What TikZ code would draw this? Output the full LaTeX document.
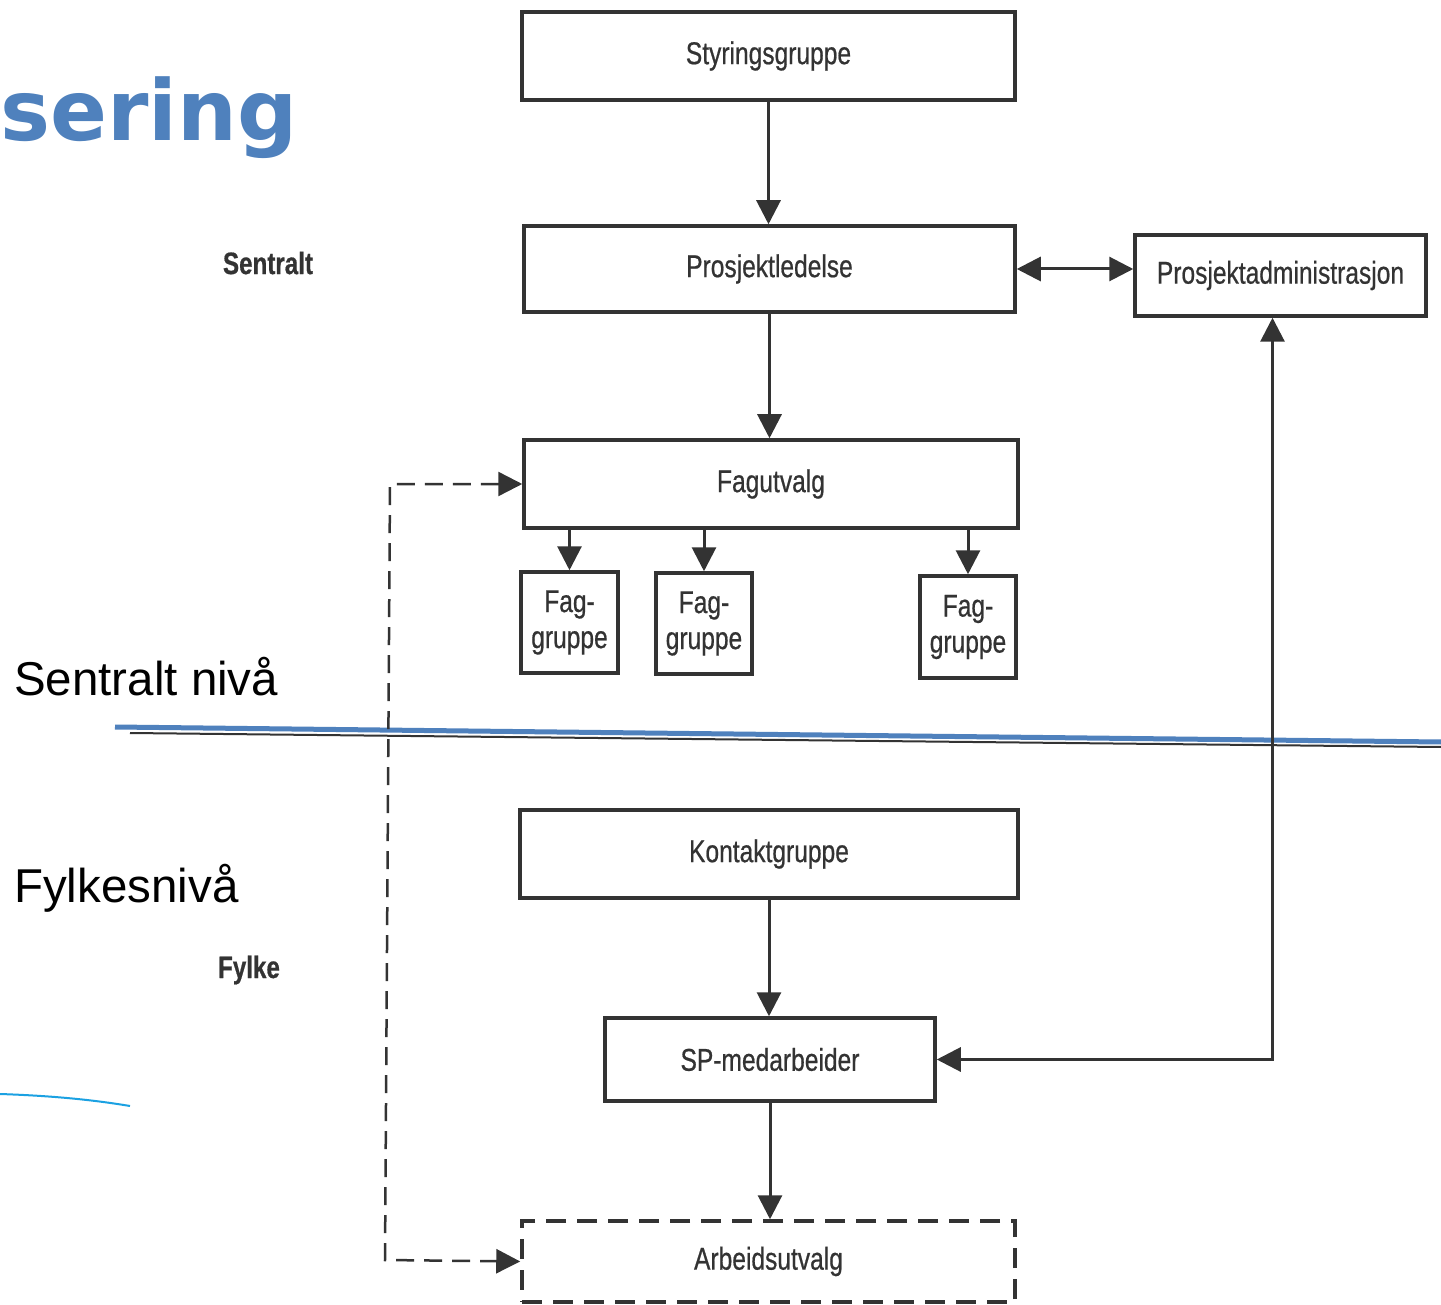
\documentclass[tikz,border=0pt]{standalone}
\usepackage{fontspec}
\usetikzlibrary{arrows.meta,calc}
\newfontfamily\condfont[FakeStretch=0.78,FakeBold=0.6]{Liberation Sans}
\newfontfamily\arialfont{Liberation Sans}
\newfontfamily\titlefont{DejaVu Sans}
\definecolor{ink}{HTML}{333333}
\definecolor{titleblue}{HTML}{4F81BD}
\definecolor{lightblue}{HTML}{1BA1E2}
\tikzset{
  box/.style={draw=ink, line width=3.5pt, fill=white, inner sep=0pt, text=ink,
    font=\condfont\fontsize{31.5}{36}\selectfont, align=center},
  dbox/.style={box, dash pattern=on 20pt off 11pt},
  arr/.style={draw=ink, line width=3pt, -{Triangle[length=24pt,width=24pt]}},
  darr/.style={draw=ink, line width=3pt, {Triangle[length=24pt,width=24pt]}-{Triangle[length=24pt,width=24pt]}},
  dasharr/.style={darr, line width=2.5pt, dash pattern=on 18pt off 10pt},
  side/.style={text=ink, font=\condfont\bfseries\fontsize{31}{34}\selectfont},
  level/.style={anchor=west, text=black, font=\arialfont\fontsize{47.5}{52}\selectfont, inner sep=0pt},
}
\begin{document}
\begin{tikzpicture}[x=1pt,y=-1pt]
\useasboundingbox (0,0) rectangle (1441,1305);
\fill[white] (0,0) rectangle (1441,1305);

% title fragment
\node[anchor=west, inner sep=0pt, text=titleblue, font=\titlefont\bfseries\fontsize{84}{90}\selectfont] (title) at (0,118) {sering};

% side labels
\node[side] (lsent) at (268,263) {Sentralt};
\node[side] (lfylke) at (249,970) {Fylke};
\node[level] (lsn) at (14,677) {Sentralt nivå};
\node[level] (lfn) at (14,888) {Fylkesnivå};

% boxes
\node[box, minimum width=493, minimum height=88] (sty) at (768.5,56) {Styringsgruppe};
\node[box, minimum width=491, minimum height=86] (pl) at (769.5,269) {Prosjektledelse};
\node[box, minimum width=291, minimum height=81] (pa) at (1280.5,275.5) {Prosjektadministrasjon};
\node[box, minimum width=494, minimum height=88] (fu) at (771,484) {Fagutvalg};
\node[box, minimum width=97, minimum height=101] (fg1) at (569.5,622.5) {Fag-\\gruppe};
\node[box, minimum width=96, minimum height=101] (fg2) at (704,623.5) {Fag-\\gruppe};
\node[box, minimum width=96, minimum height=102] (fg3) at (968,627) {Fag-\\gruppe};
\node[box, minimum width=498, minimum height=88] (kg) at (769,854) {Kontaktgruppe};
\node[box, minimum width=330, minimum height=83] (sp) at (770,1059.5) {SP-medarbeider};
\node[dbox, minimum width=493, minimum height=81] (au) at (768.5,1261.5) {Arbeidsutvalg};

% divider lines
\draw[black!80, line width=2pt] (130,733) -- (1441,747);
\draw[titleblue, line width=5pt] (115,727) -- (1441,742);
\draw[lightblue, line width=2pt] (0,1094) .. controls (60,1096) and (100,1101) .. (130,1106);

% connectors
\draw[arr] (sty.south) -- (sty.south |- pl.north);
\draw[arr] (pl.south) -- (pl.south |- fu.north);
\draw[arr] (fg1.north |- fu.south) -- (fg1.north);
\draw[arr] (fg2.north |- fu.south) -- (fg2.north);
\draw[arr] (fg3.north |- fu.south) -- (fg3.north);
\draw[darr] (pl.east) -- (pl.east -| pa.west);
\coordinate (pab) at ([xshift=-8pt]pa.south);
\draw[darr] (sp.east) -| (pab);
\draw[arr] (kg.south) -- (kg.south |- sp.north);
\draw[arr] (sp.south) -- (sp.south |- au.north);

\coordinate (dtop) at (390,484);
\coordinate (dbot) at (385,1260);
\draw[dasharr] (fu.west) -- (fu.west -| dtop) -- (dbot) -- (au.west);
\end{tikzpicture}
\end{document}
